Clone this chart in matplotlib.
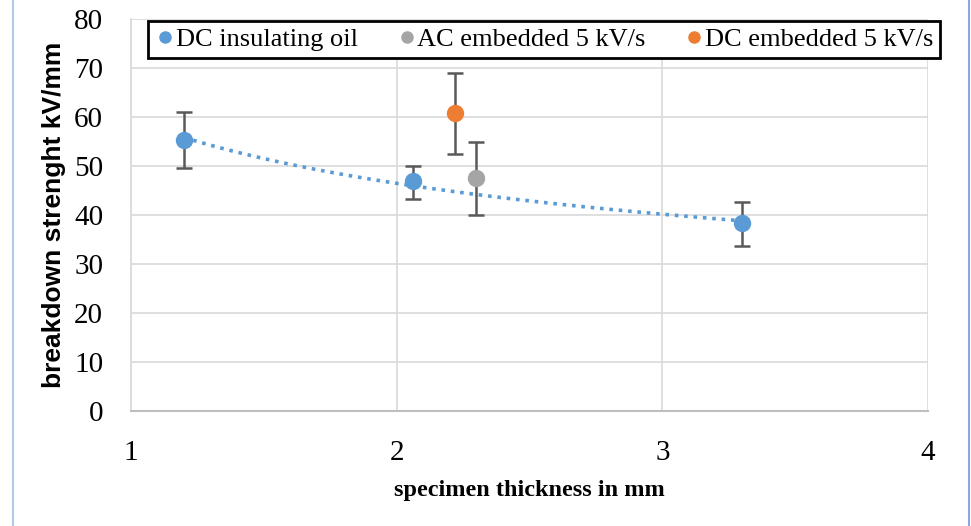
import numpy as np
import matplotlib.pyplot as plt
from matplotlib.lines import Line2D

# DC insulating oil
oil_x = [1.2, 2.06, 3.3]
oil_y = [55.3, 46.9, 38.4]
oil_lo = [49.6, 43.3, 33.7]
oil_hi = [61.0, 50.0, 42.7]

# AC embedded 5 kV/s
ac_x = [2.3]
ac_y = [47.5]
ac_lo = [40.0]
ac_hi = [54.9]

# DC embedded 5 kV/s
dce_x = [2.22]
dce_y = [60.8]
dce_lo = [52.4]
dce_hi = [69.0]

blue, grey, orange = '#5b9bd5', '#a5a5a5', '#ed7d31'
err_c = '#595959'

fig = plt.figure(figsize=(9.71, 5.26), dpi=100)
ax = fig.add_axes([131/971, 1-411/526, (928-131)/971, (411-19)/526])


def errs(y, lo, hi):
    y = np.array(y)
    return [y - np.array(lo), np.array(hi) - y]


# power trend line for the oil series
b, a = np.polyfit(np.log(oil_x), np.log(oil_y), 1)
tx = np.linspace(min(oil_x), max(oil_x), 100)
ax.plot(tx, np.exp(a) * tx ** b, color=blue, ls=(0, (1, 1.6)), lw=2.6, zorder=2)

series = [
    (oil_x, oil_y, oil_lo, oil_hi, blue, 'DC insulating oil'),
    (ac_x, ac_y, ac_lo, ac_hi, grey, 'AC embedded 5 kV/s'),
    (dce_x, dce_y, dce_lo, dce_hi, orange, 'DC embedded 5 kV/s'),
]
handles = []
for x, y, lo, hi, c, lab in series:
    ax.errorbar(x, y, yerr=errs(y, lo, hi), fmt='none', ecolor=err_c,
                elinewidth=1.8, capsize=6, capthick=1.8, zorder=3)
    ax.plot(x, y, 'o', color=c, ms=11.5, zorder=4)
    handles.append(Line2D([], [], marker='o', ls='none', color=c, ms=8, label=lab))

ax.set_xlim(1, 4)
ax.set_ylim(0, 80)
ax.set_xticks([1, 2, 3, 4])
ax.set_yticks(range(0, 81, 10))
ax.grid(True, color='#d9d9d9', lw=1.2)
ax.set_axisbelow(True)
ax.tick_params(length=0, labelsize=21)
for lab in ax.get_xticklabels() + ax.get_yticklabels():
    lab.set_family('Liberation Serif')
ax.tick_params(axis='y', pad=20)
ax.tick_params(axis='x', pad=21)
for s in ['top', 'right']:
    ax.spines[s].set_visible(False)
ax.spines['left'].set_color('#d9d9d9')
ax.spines['bottom'].set_color('#bfbfbf')
ax.spines['left'].set_linewidth(1.2)
ax.spines['bottom'].set_linewidth(1.5)

ax.set_xlabel('specimen thickness in mm', family='Liberation Serif',
              fontweight='bold', fontsize=17.5, labelpad=10)
ax.set_ylabel('breakdown strenght kV/mm', family='Liberation Sans',
              fontweight='bold', fontsize=19, labelpad=6)

leg = fig.legend(handles=handles, loc='lower left', ncol=3, mode='expand',
                 bbox_to_anchor=(148/971, 1-58/526, (940-148)/971, 46/526),
                 prop={'family': 'Liberation Serif', 'size': 19},
                 handletextpad=0.0, handlelength=0.8, borderaxespad=0,
                 borderpad=0.25, fancybox=False, framealpha=1)
leg.get_frame().set_edgecolor('black')
leg.get_frame().set_linewidth(2)

fig.add_artist(Line2D([13/971, 13/971], [0, 1], color='#b4c8e8', lw=1.5))
fig.add_artist(Line2D([969/971, 969/971], [0, 1], color='#8aa8dc', lw=1.5))

fig.savefig('out.png', dpi=100)
